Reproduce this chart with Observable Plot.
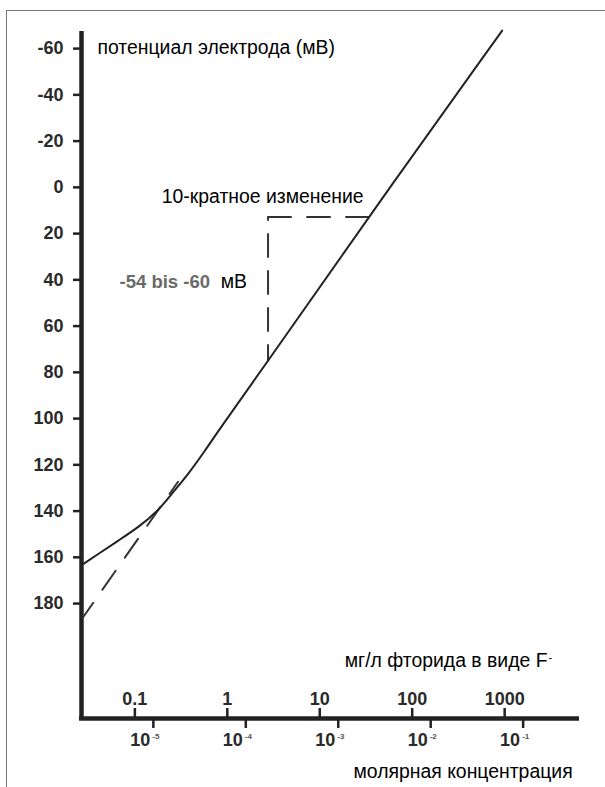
<!DOCTYPE html>
<html>
<head>
<meta charset="utf-8">
<script src="https://cdn.jsdelivr.net/npm/d3@7"></script>
<script src="https://cdn.jsdelivr.net/npm/@observablehq/plot@0.6"></script>
<style>
  html, body { margin: 0; padding: 0; background: #fff; }
  #wrap { position: relative; width: 605px; height: 787px; overflow: hidden; }
  #border { position: absolute; left: 6px; top: 10px; right: -10px; bottom: -10px;
            border-top: 1.5px solid #777; border-left: 1.5px solid #777; pointer-events: none; }
  #chart svg { display: block; }
</style>
</head>
<body>
<div id="wrap"><div id="chart"></div><div id="border"></div></div>
<script>
// ---- data ----
// electrode potential axis (mV), drawn with negative values on top
const yTicks = [-60, -40, -20, 0, 20, 40, 60, 80, 100, 120, 140, 160, 180];
// upper tick row: mg/L fluoride as F-
const mgTicks = [0.1, 1, 10, 100, 1000];
const mgTickLabels = ["0.1", "1", "10", "100", "1000"];
// lower tick row: molar concentration
const molarTicks = [1e-5, 1e-4, 1e-3, 1e-2, 1e-1];
const molarExponents = ["-5", "-4", "-3", "-2", "-1"];
// offset between the two tick rows as drawn (0.1 mg/L sits ~0.2 decade left of 1e-5 M)
const mgToMolar = 10 ** -4.2;

// measured response curve (molar concentration, mV)
const solidConc = [1.76e-6, 2.55e-6, 4.20e-6, 6.91e-6, 1.14e-5, 1.58e-5, 2.40e-5, 3.64e-5, 5.07e-5, 1.50e-4, 2.13e-3, 5.93e-2];
const solidMv   = [162.8, 158.5, 152.7, 147.0, 139.7, 132.5, 123.9, 113.8, 105.1, 78.8, 12.8, -67.8];
// dashed extrapolation of the linear part
const dashConc = [1.73e-6, 1.85e-5];
const dashMv   = [186.0, 127.3];
// 10-fold change triangle
const tenfoldConc = [1.74e-4, 2.13e-3];
const tenfoldMv   = [12.8, 12.8];
const dropConc    = [1.74e-4, 1.74e-4];
const dropMv      = [12.8, 75.0];

const xDomain = [1.67e-6, 0.407];
const yDomain = [-67.4, 229.7];

const pts = (xs, ys) => xs.map((x, i) => ({x, y: ys[i]}));

const W = 605, H = 787, mT = 31, mB = 69, mL = 81, mR = 26;
const innerH = H - mT - mB;
const ink = "#222";
const tickFont = "'Liberation Sans Narrow', 'Arial Narrow', 'Liberation Sans', Arial, sans-serif";
const textFont = "'Liberation Sans', Arial, sans-serif";

const chart = Plot.plot({
  width: W, height: H,
  marginTop: mT, marginBottom: mB, marginLeft: mL, marginRight: mR,
  style: {fontFamily: textFont, background: "transparent"},
  x: {type: "log", domain: xDomain},
  y: {domain: yDomain, reverse: true},
  marks: [
    // axes
    Plot.axisY({ticks: yTicks, tickSize: 8, tickPadding: 10, tickFormat: d => `${d}`,
      fontSize: 18, fontWeight: "bold", fill: "#2a2a2a", stroke: ink, strokeWidth: 2.5, label: null,
      fontFamily: tickFont}),
    Plot.axisX({anchor: "bottom", ticks: molarTicks, tickSize: 10, tickFormat: () => "",
      stroke: ink, strokeWidth: 2.5, label: null}),
    Plot.ruleX(mgTicks, {x: d => d * mgToMolar, insetTop: innerH - 10, stroke: ink, strokeWidth: 2.5}),
    Plot.ruleX([xDomain[0]], {stroke: ink, strokeWidth: 4.5}),
    Plot.ruleY([yDomain[1]], {stroke: ink, strokeWidth: 4.5, insetLeft: -2}),
    // tick labels
    Plot.text(mgTicks, {x: d => d * mgToMolar, text: (d, i) => mgTickLabels[i], frameAnchor: "bottom",
      dy: -19, lineAnchor: "middle", fontSize: 18, fontWeight: "bold", fill: "#2a2a2a", fontFamily: tickFont}),
    Plot.text(molarTicks, {x: d => d, text: () => "10", frameAnchor: "bottom", textAnchor: "end",
      dx: -3, dy: 22, lineAnchor: "middle", fontSize: 18, fontWeight: "bold", fill: "#2a2a2a", fontFamily: tickFont}),
    Plot.text(molarTicks, {x: d => d, text: (d, i) => molarExponents[i], frameAnchor: "bottom", textAnchor: "start",
      dx: -1, dy: 15, lineAnchor: "top", fontSize: 8, fontWeight: "bold", fill: "#555", fontFamily: tickFont}),
    // curves
    Plot.line(pts(dashConc, dashMv), {x: "x", y: "y", stroke: "#333", strokeWidth: 2,
      strokeDasharray: "23,16", strokeDashoffset: 5}),
    Plot.line(pts(tenfoldConc, tenfoldMv), {x: "x", y: "y", stroke: "#333", strokeWidth: 2,
      strokeDasharray: "23,16"}),
    Plot.line(pts(dropConc, dropMv), {x: "x", y: "y", stroke: "#333", strokeWidth: 2,
      strokeDasharray: "23,14", strokeDashoffset: 20}),
    Plot.line(pts(solidConc, solidMv), {x: "x", y: "y", stroke: ink, strokeWidth: 2, curve: "basis"}),
    // titles and annotations
    Plot.text(["потенциал электрода (мВ)"], {frameAnchor: "top-left", textAnchor: "start", lineAnchor: "bottom",
      dx: 16, dy: 22, fontSize: 19.4, fill: "#000"}),
    Plot.text(["10-кратное изменение"], {x: tenfoldConc[1], y: tenfoldMv[1], textAnchor: "end", lineAnchor: "bottom",
      dx: -5, dy: -14, fontSize: 19.4, fill: "#000"}),
    Plot.text(["мВ"], {x: dropConc[0], y: (dropMv[0] + dropMv[1]) / 2, textAnchor: "end", lineAnchor: "middle",
      dx: -21, dy: -7, fontSize: 19.4, fill: "#000"}),
    Plot.text(["-54 bis -60"], {x: dropConc[0], y: (dropMv[0] + dropMv[1]) / 2, textAnchor: "end", lineAnchor: "middle",
      dx: -58, dy: -7, fontSize: 18.5, fontWeight: "bold", fill: "#6a6a6a", fontFamily: tickFont}),
    Plot.text(["мг/л фторида в виде F"], {frameAnchor: "bottom-right", textAnchor: "end", lineAnchor: "bottom",
      dx: -32, dy: -52, fontSize: 19.4, fill: "#000"}),
    Plot.text(["-"], {frameAnchor: "bottom-right", textAnchor: "start", lineAnchor: "top",
      dx: -31, dy: -65, fontSize: 11, fill: "#000"}),
    Plot.text(["молярная концентрация"], {frameAnchor: "bottom-left", textAnchor: "start", lineAnchor: "bottom",
      dx: 272, dy: 59, fontSize: 19.4, fill: "#000"})
  ]
});
document.getElementById("chart").appendChild(chart);
</script>
</body>
</html>
